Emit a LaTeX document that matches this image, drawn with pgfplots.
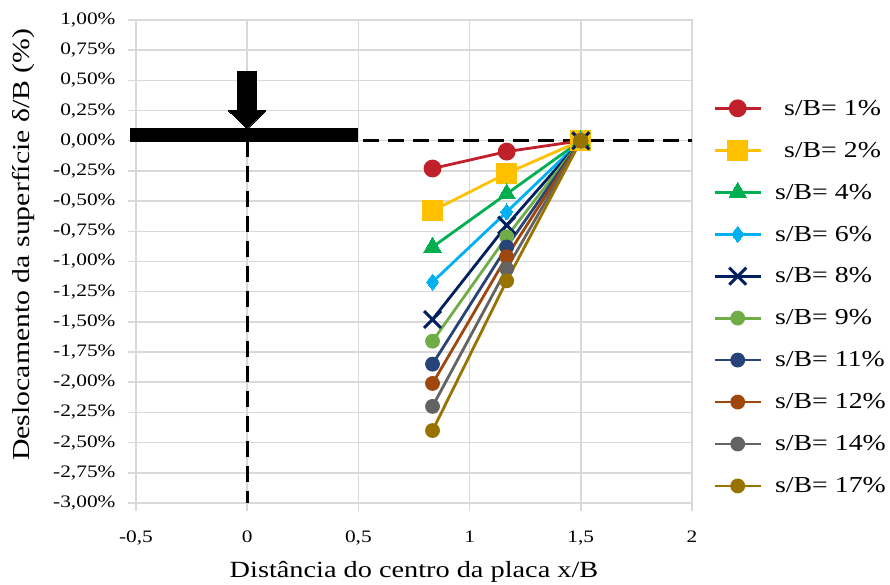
\documentclass[border=0pt]{standalone}
\usepackage{pgfplots}
\pgfplotsset{compat=1.18}
\usepackage{fontspec}
\setmainfont[FakeStretch=1.22]{Liberation Serif}
\definecolor{c1}{HTML}{C0202A}
\definecolor{c2}{HTML}{FFC000}
\definecolor{c4}{HTML}{00B050}
\definecolor{c6}{HTML}{00B0F0}
\definecolor{c8}{HTML}{002060}
\definecolor{c9}{HTML}{70AD47}
\definecolor{c11}{HTML}{264478}
\definecolor{c12}{HTML}{9E480E}
\definecolor{c14}{HTML}{636363}
\definecolor{c17}{HTML}{997300}
\definecolor{gridc}{HTML}{D9D9D9}
\begin{document}
\begin{tikzpicture}
\useasboundingbox (-136pt,-82pt) rectangle (754pt,503pt);
\begin{axis}[
  at={(0pt,0pt)}, anchor=south west,
  scale only axis, width=556pt, height=483pt,
  xmin=-0.5, xmax=2, ymin=-3, ymax=1,
  xtick={-0.5,0,0.5,1,1.5,2},
  xticklabels={{-0,5},0,{0,5},1,{1,5},2},
  ytick={-3,-2.75,-2.5,-2.25,-2,-1.75,-1.5,-1.25,-1,-0.75,-0.5,-0.25,0,0.25,0.5,0.75,1},
  yticklabels={{-3,00\%},{-2,75\%},{-2,50\%},{-2,25\%},{-2,00\%},{-1,75\%},{-1,50\%},{-1,25\%},{-1,00\%},{-0,75\%},{-0,50\%},{-0,25\%},{0,00\%},{0,25\%},{0,50\%},{0,75\%},{1,00\%}},
  grid=major,
  major grid style={gridc, line width=1.5pt},
  axis line style={gridc, line width=1.5pt},
  tick style={gridc, line width=1.5pt},
  major tick length=8pt,
  tick align=outside,
  xtick pos=bottom, ytick pos=left,
  clip=false,
  ticklabel style={font=\fontsize{17.5}{19}\selectfont},
  yticklabel style={xshift=-9pt},
  xticklabel style={yshift=-16pt},
  xlabel={Distância do centro da placa x/B},
  ylabel={Deslocamento da superfície δ/B (\%)},
  label style={font=\fontsize{23.2}{26}\selectfont},
  xlabel style={at={(axis description cs:0.5,-0.143)}, anchor=center},
  ylabel style={at={(axis description cs:-0.203,0.535)}, anchor=center, font=\fontsize{24.4}{26}\selectfont},
  legend style={draw=none, fill=none, at={(1.038,0.839)}, anchor=north west,
    font=\fontsize{22.8}{25}\selectfont, row sep=21.3pt, inner sep=0pt},
  legend cell align=left,
  legend image code/.code={\draw[mark repeat=2,mark phase=2] plot coordinates {(0pt,0pt) (23pt,0pt) (46pt,0pt)};},
  every axis plot/.append style={line width=2.8pt},
]
% footing and load
\addplot[forget plot, black, line width=3pt, dash pattern=on 16pt off 9pt, mark=none] coordinates {(0.52,0) (2,0)};
\addplot[forget plot, black, line width=3pt, dash pattern=on 16pt off 9pt, mark=none] coordinates {(0,0) (0,-3)};
\addplot[forget plot, black, line width=14pt, mark=none] coordinates {(-0.525,0.045) (0.5,0.045)};
\addplot[forget plot, black, fill=black, line width=0pt, mark=none] coordinates {(-0.043,0.571) (0.043,0.571) (0.043,0.248) (0.083,0.248) (0,0.099) (-0.083,0.248) (-0.043,0.248)} -- cycle;
% series
\addplot[c1, mark=*, mark size=7.5pt, mark options={fill=c1}] coordinates {(0.8333,-0.23) (1.1667,-0.09) (1.5,0)};
\addlegendentry{\hspace{20pt}s/B= 1\%}
\addplot[c2, mark=square*, mark size=9pt, mark options={fill=c2}] coordinates {(0.8333,-0.58) (1.1667,-0.27) (1.5,0)};
\addlegendentry{\hspace{20pt}s/B= 2\%}
\addplot[c4, mark=triangle*, mark size=10pt, mark options={fill=c4, line width=0pt}] coordinates {(0.8333,-0.88) (1.1667,-0.44) (1.5,0)};
\addlegendentry{\hspace{11pt}s/B= 4\%}
\addplot[c6, mark=diamond*, mark size=8pt, mark options={fill=c6, line width=0pt}] coordinates {(0.8333,-1.17) (1.1667,-0.59) (1.5,0)};
\addlegendentry{\hspace{11pt}s/B= 6\%}
\addplot[c8, mark=x, mark size=12pt, mark options={line width=3pt}] coordinates {(0.8333,-1.48) (1.1667,-0.70) (1.5,0)};
\addlegendentry{\hspace{11pt}s/B= 8\%}
\addplot[c9, mark=*, mark size=6pt, mark options={fill=c9}] coordinates {(0.8333,-1.66) (1.1667,-0.795) (1.5,0)};
\addlegendentry{\hspace{11pt}s/B= 9\%}
\addplot[c11, mark=*, mark size=6pt, mark options={fill=c11}] coordinates {(0.8333,-1.85) (1.1667,-0.88) (1.5,0)};
\addlegendentry{\hspace{11pt}s/B= 11\%}
\addplot[c12, mark=*, mark size=6pt, mark options={fill=c12}] coordinates {(0.8333,-2.01) (1.1667,-0.96) (1.5,0)};
\addlegendentry{\hspace{11pt}s/B= 12\%}
\addplot[c14, mark=*, mark size=6pt, mark options={fill=c14}] coordinates {(0.8333,-2.20) (1.1667,-1.06) (1.5,0)};
\addlegendentry{\hspace{11pt}s/B= 14\%}
\addplot[c17, mark=*, mark size=6pt, mark options={fill=c17}] coordinates {(0.8333,-2.40) (1.1667,-1.16) (1.5,0)};
\addlegendentry{\hspace{11pt}s/B= 17\%}
\end{axis}
\end{tikzpicture}
\end{document}
